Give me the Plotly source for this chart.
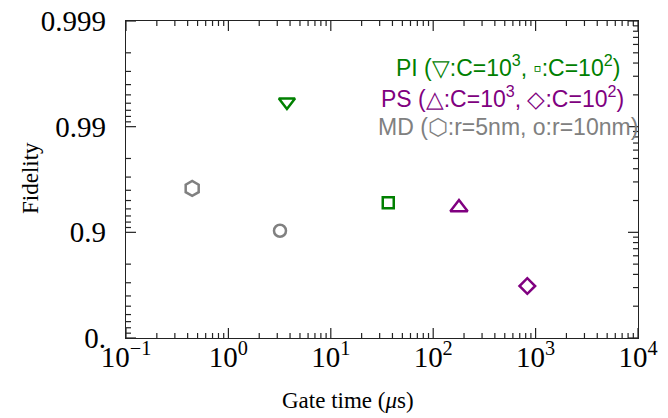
import numpy as np
import plotly.graph_objects as go

# ---- data ----
series_names = ["PI C=1e3", "PI C=1e2", "PS C=1e3", "PS C=1e2", "MD r=5nm", "MD r=10nm"]
gate_time_us = [3.73, 36.4, 178.6, 830.0, 0.443, 3.19]
fidelity = [0.99415, 0.9475, 0.9418, 0.678, 0.9616, 0.9034]
symbols = ["triangle-down-open", "square-open", "triangle-up-open", "diamond-open", "hexagon-open", "circle-open"]
colors = ["#008000", "#008000", "#800080", "#800080", "#808080", "#808080"]
sizes = [14, 11, 15, 12, 15, 12]

y_tick_vals = [1.0, 0.1, 0.01, 0.001]
y_tick_text = ["0.", "0.9", "0.99", "0.999"]
x_tick_vals = [0.1, 1, 10, 100, 1000, 10000]
x_tick_text = ["10<sup>−1</sup>", "10<sup>0</sup>", "10<sup>1</sup>", "10<sup>2</sup>", "10<sup>3</sup>", "10<sup>4</sup>"]

infidelity = [1 - f for f in fidelity]

# minor ticks
x_minor = [m * 10.0 ** k for k in range(-1, 4) for m in range(2, 10)]
y_minor_left = [m * 10.0 ** k for k in (-3, -2, -1) for m in range(2, 10)]
y_minor_right = [10.0 ** k / m for k in (0, -1, -2) for m in range(2, 10)]

fig = go.Figure()
for i in range(len(series_names)):
    fig.add_trace(go.Scatter(
        x=[gate_time_us[i]], y=[infidelity[i]], mode="markers", name=series_names[i],
        marker=dict(symbol=symbols[i], size=sizes[i], color=colors[i],
                    line=dict(width=2.5, color=colors[i])),
        showlegend=False, hoverinfo="skip"))

axis_color = "#222222"
tick_font = dict(family="Liberation Serif", size=29, color="black")
XR = [-1, 4]
YR = [0, -3]

fig.update_layout(
    width=668, height=418,
    margin=dict(l=126, r=30, t=21, b=80),
    paper_bgcolor="white", plot_bgcolor="white",
    xaxis=dict(type="log", range=XR, showgrid=False, zeroline=False,
               showline=True, linecolor=axis_color, linewidth=1.2, mirror=True,
               ticks="", tickmode="array", tickvals=x_tick_vals, ticktext=x_tick_text,
               tickfont=tick_font, ticklabelstandoff=-7, automargin=False),
    yaxis=dict(type="log", range=YR, showgrid=False, zeroline=False,
               showline=True, linecolor=axis_color, linewidth=1.2, mirror=True,
               ticks="", tickmode="array", tickvals=y_tick_vals, ticktext=y_tick_text,
               tickfont=tick_font, ticklabelstandoff=13, automargin=False),
)

# frame ticks (inward), placed through the axes' own log scales (data values)
tick_line = dict(color=axis_color, width=1.2)


def x_ticks(vals, length, top):
    for v in vals:
        fig.add_shape(type="line", xref="x", yref="paper", x0=v, x1=v,
                      ysizemode="pixel", yanchor=1 if top else 0,
                      y0=0, y1=-length if top else length, line=tick_line, layer="above")


def y_ticks(vals, length, right):
    for v in vals:
        fig.add_shape(type="line", yref="y", xref="paper", y0=v, y1=v,
                      xsizemode="pixel", xanchor=1 if right else 0,
                      x0=0, x1=-length if right else length, line=tick_line, layer="above")


x_ticks(x_tick_vals, 10, False)
x_ticks(x_minor, 5, False)
x_ticks(x_tick_vals, 10, True)
x_ticks(x_minor, 5, True)
y_ticks(y_tick_vals, 10, False)
y_ticks(y_minor_left, 5, False)
y_ticks(y_tick_vals, 10, True)
y_ticks(y_minor_right, 5, True)

title_font = dict(family="Liberation Serif", size=23, color="black")
fig.add_annotation(xref="paper", yref="paper", x=(348 - 126) / 512, y=-(400 - 338) / 317,
                   xanchor="center", yanchor="middle", showarrow=False,
                   text="Gate time (<i>μ</i>s)", font=title_font)
fig.add_annotation(xref="paper", yref="paper", x=-(126 - 30) / 512, y=(338 - 178) / 317,
                   xanchor="center", yanchor="middle", showarrow=False, textangle=-90,
                   text="Fidelity", font=title_font)

legend_font = "Liberation Sans"
fig.add_annotation(xref="paper", yref="paper", x=(622 - 126) / 512, y=(338 - 66) / 317,
                   xanchor="right", yanchor="middle",
                   showarrow=False, text="PI (▽:C=10<sup>3</sup>, ▫:C=10<sup>2</sup>)",
                   font=dict(family=legend_font, size=23, color="#008000"))
fig.add_annotation(xref="paper", yref="paper", x=(626 - 126) / 512, y=(338 - 97) / 317,
                   xanchor="right", yanchor="middle",
                   showarrow=False, text="PS (△:C=10<sup>3</sup>, ◇:C=10<sup>2</sup>)",
                   font=dict(family=legend_font, size=23, color="#800080"))
fig.add_annotation(xref="paper", yref="paper", x=(640 - 126) / 512, y=(338 - 127) / 317,
                   xanchor="right", yanchor="middle",
                   showarrow=False, text="MD (⬡:r=5nm, o:r=10nm)",
                   font=dict(family=legend_font, size=23, color="#808080"))

fig.write_html("out.html")
